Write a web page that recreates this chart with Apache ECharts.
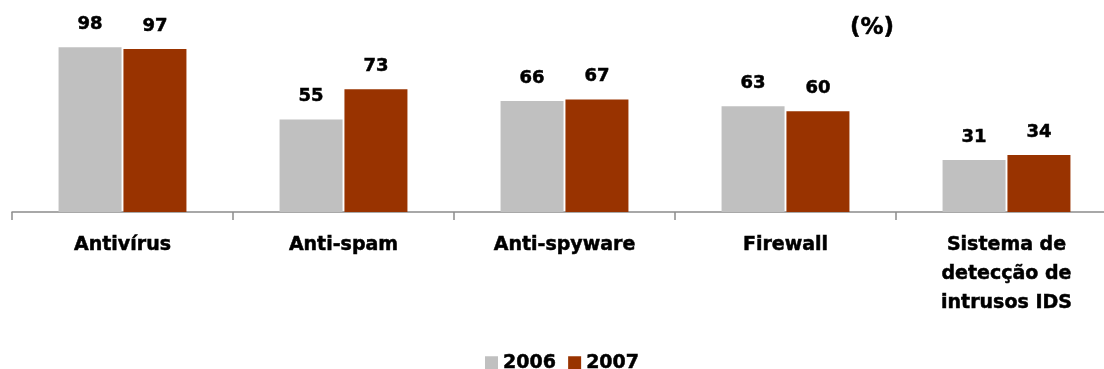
<!DOCTYPE html>
<html>
<head>
<meta charset="utf-8">
<script src="https://cdn.jsdelivr.net/npm/echarts@6/dist/echarts.min.js"></script>
<style>
  html, body { margin: 0; padding: 0; background: #ffffff; }
  #chart { width: 1104px; height: 369px; }
</style>
</head>
<body>
<div id="chart"></div>
<script>
// Security tools adopted, share of companies (%)
const categories = ['Antivírus', 'Anti-spam', 'Anti-spyware', 'Firewall', 'Sistema de\ndetecção de\nintrusos IDS'];
const seriesNames = ['2006', '2007'];
const values2006 = [98, 55, 66, 63, 31];
const values2007 = [97, 73, 67, 60, 34];
const unitLabel = '(%)';

const FONT = 'DejaVu Sans';
const colors = ['#C0C0C0', '#993300'];
// a thin outline in the text colour gives the heavy bold look
const heavy = { textBorderColor: '#000000', textBorderWidth: 0.5 };

const chart = echarts.init(document.getElementById('chart'), null, { renderer: 'canvas' });

function barSeries(name, data, color) {
  return {
    name: name,
    type: 'bar',
    data: data,
    barWidth: 63,
    barGap: '3%',
    itemStyle: { color: color },
    label: Object.assign({
      show: true,
      position: 'top',
      distance: 14,
      fontFamily: FONT,
      fontWeight: 'bold',
      fontSize: 18,
      color: '#000000'
    }, heavy)
  };
}

chart.setOption({
  animation: false,
  backgroundColor: '#ffffff',
  color: colors,
  title: {
    text: unitLabel,
    left: 845,
    top: 12,
    textStyle: Object.assign({ fontFamily: FONT, fontWeight: 'bold', fontSize: 23, color: '#000000' }, heavy)
  },
  legend: {
    data: seriesNames,
    left: 480,
    top: 348,
    itemWidth: 13,
    itemHeight: 13,
    itemGap: 12,
    icon: 'rect',
    textStyle: Object.assign({ fontFamily: FONT, fontWeight: 'bold', fontSize: 19, color: '#000000' }, heavy)
  },
  // the plot runs past the right edge, so the last category is cut by the frame
  grid: { left: 12, width: 1105, top: 44, bottom: 157, containLabel: false, outerBoundsMode: 'none' },
  xAxis: {
    type: 'category',
    data: categories,
    axisLine: { show: true, lineStyle: { color: '#8c8c8c', width: 1.5 } },
    axisTick: { show: true, length: 8, lineStyle: { color: '#8c8c8c', width: 1.5 } },
    axisLabel: Object.assign({
      margin: 19,
      interval: 0,
      fontFamily: FONT,
      fontWeight: 'bold',
      fontSize: 19,
      lineHeight: 29,
      color: '#000000',
      align: 'center'
    }, heavy)
  },
  yAxis: {
    type: 'value',
    min: 0,
    max: 100,
    show: false,
    splitLine: { show: false }
  },
  series: [
    barSeries(seriesNames[0], values2006, colors[0]),
    barSeries(seriesNames[1], values2007, colors[1])
  ]
});
</script>
</body>
</html>
